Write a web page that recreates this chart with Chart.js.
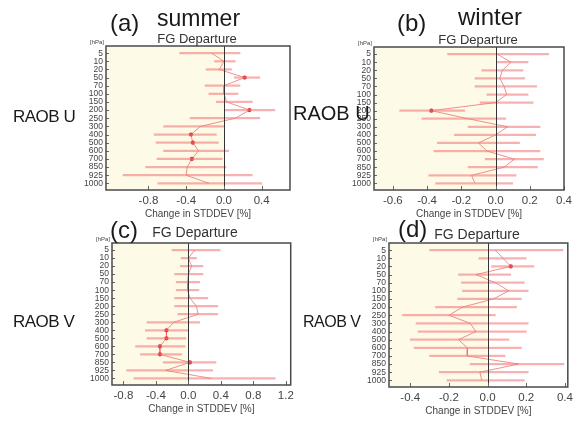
<!DOCTYPE html>
<html>
<head>
<meta charset="utf-8">
<script src="https://cdn.jsdelivr.net/npm/chart.js@4.4.1/dist/chart.umd.min.js"></script>
<style>
  body { margin: 0; background: #fff; }
  #wrap { position: relative; width: 582px; height: 421px; overflow: hidden; font-family: 'Liberation Sans', Arial, sans-serif; color: #1a1a1a; }
  canvas { position: absolute; }
  .lbl { position: absolute; line-height: 1; white-space: nowrap; z-index: 2; }
  .big { font-size: 24px; }
  .fg { font-size: 13px; color: #333; transform: translateX(-50%); }
</style>
</head>
<body>
<div id="wrap">
  <canvas id="cA"></canvas>
  <canvas id="cB"></canvas>
  <canvas id="cC"></canvas>
  <canvas id="cD"></canvas>

  <div class="lbl big" style="left:110px; top:11px;">(a)</div>
  <div class="lbl" style="left:157px; top:7px; font-size:23px;">summer</div>
  <div class="lbl big" style="left:397px; top:11px;">(b)</div>
  <div class="lbl" style="left:458px; top:5px; font-size:24px;">winter</div>
  <div class="lbl big" style="left:110px; top:218px;">(c)</div>
  <div class="lbl big" style="left:398px; top:217px;">(d)</div>

  <div class="lbl fg" style="left:197px; top:32px;">FG Departure</div>
  <div class="lbl fg" style="left:478px; top:33px;">FG Departure</div>
  <div class="lbl fg" style="left:195px; top:225px; font-size:14px;">FG Departure</div>
  <div class="lbl fg" style="left:477px; top:227px; font-size:14px;">FG Departure</div>

  <div class="lbl" style="left:13px; top:108px; font-size:17px; letter-spacing:-0.5px;">RAOB U</div>
  <div class="lbl" style="left:293px; top:103px; font-size:20px;">RAOB U</div>
  <div class="lbl" style="left:13px; top:313px; font-size:17px; letter-spacing:-0.5px;">RAOB V</div>
  <div class="lbl" style="left:303px; top:314px; font-size:16px; letter-spacing:-0.5px;">RAOB V</div>
</div>
<script>
// pressure levels (hPa), top to bottom
const levels = ['5', '10', '20', '50', '70', '100', '150', '200', '250', '300', '400', '500', '600', '700', '850', '925', '1000'];

// (a) summer, RAOB U
const meanA = [-0.13, 0.0, -0.05, 0.22, 0.0, 0.0, 0.03, 0.27, 0.12, -0.25, -0.35, -0.33, -0.27, -0.34, -0.39, -0.40, -0.16];
const lowA  = [-0.47, -0.10, -0.19, 0.11, -0.20, -0.16, -0.08, 0.01, -0.36, -0.64, -0.74, -0.72, -0.64, -0.71, -0.83, -1.07, -0.70];
const highA = [0.17, 0.12, 0.08, 0.38, 0.17, 0.15, 0.30, 0.54, 0.38, 0.0, -0.08, -0.06, 0.05, -0.02, 0.02, 0.30, 0.40];
const sigA  = ['50', '200', '400', '500', '700'];
const ticksA = [-0.8, -0.4, 0.0, 0.4];

// (b) winter, RAOB U
const meanB = [0.01, 0.09, 0.04, 0.025, 0.05, 0.065, 0.0, -0.375, -0.16, 0.07, 0.0, -0.10, -0.05, 0.11, 0.05, -0.14, -0.12];
const lowB  = [-0.28, 0.01, -0.08, -0.12, -0.12, -0.05, -0.09, -0.56, -0.43, -0.16, -0.24, -0.34, -0.36, -0.06, -0.16, -0.39, -0.35];
const highB = [0.31, 0.19, 0.16, 0.17, 0.24, 0.19, 0.22, -0.18, 0.06, 0.26, 0.235, 0.14, 0.26, 0.28, 0.245, 0.12, 0.10];
const sigB  = ['200'];
const ticksB = [-0.6, -0.4, -0.2, 0.0, 0.2, 0.4];

// (c) summer, RAOB V
const meanC = [0.08, 0.0, 0.04, 0.0, -0.01, -0.01, 0.02, 0.10, 0.12, -0.18, -0.27, -0.27, -0.35, -0.35, 0.02, -0.28, 0.28];
const lowC  = [-0.20, -0.09, -0.10, -0.17, -0.15, -0.15, -0.17, -0.17, -0.13, -0.51, -0.53, -0.51, -0.65, -0.59, -0.31, -0.76, -0.67];
const highC = [0.39, 0.10, 0.18, 0.18, 0.14, 0.13, 0.24, 0.36, 0.36, 0.14, 0.0, -0.03, -0.04, -0.085, 0.34, 0.30, 1.07];
const sigC  = ['400', '500', '600', '700', '850'];
const ticksC = [-0.8, -0.4, 0.0, 0.4, 0.8, 1.2];

// (d) winter, RAOB V
const meanD = [0.04, 0.08, 0.12, -0.06, 0.04, 0.11, 0.03, -0.13, -0.20, -0.09, -0.06, -0.15, -0.105, -0.105, 0.16, -0.04, -0.03];
const lowD  = [-0.30, -0.045, 0.02, -0.15, -0.135, -0.13, -0.155, -0.27, -0.44, -0.37, -0.36, -0.40, -0.38, -0.30, -0.09, -0.25, -0.21];
const highD = [0.39, 0.20, 0.24, 0.12, 0.19, 0.21, 0.175, 0.15, 0.04, 0.21, 0.20, 0.11, 0.175, 0.09, 0.395, 0.21, 0.19];
const sigD  = ['20'];
const ticksD = [-0.4, -0.2, 0.0, 0.2, 0.4];

const FONT = "'Liberation Sans', Arial, sans-serif";

// cream fill left of zero, zero line, inner tick marks, frame, [hPa]
const panelDecor = {
    id: 'panelDecor',
    beforeDatasetsDraw(chart) {
        const {ctx, chartArea: a, scales: {x}} = chart;
        const x0 = x.getPixelForValue(0);
        ctx.save();
        ctx.fillStyle = '#fdfbe7';
        ctx.fillRect(a.left, a.top, x0 - a.left, a.bottom - a.top);
        ctx.restore();
    },
    afterDatasetsDraw(chart) {
        const {ctx, chartArea: a, scales: {x, y}} = chart;
        ctx.save();
        const x0 = Math.round(x.getPixelForValue(0)) + 0.5;
        ctx.strokeStyle = '#333';
        ctx.lineWidth = 1;
        ctx.beginPath();
        ctx.moveTo(x0, a.top); ctx.lineTo(x0, a.bottom);
        ctx.stroke();

        ctx.strokeStyle = '#666';
        ctx.beginPath();
        x.ticks.forEach(t => {
            const px = Math.round(x.getPixelForValue(t.value)) + 0.5;
            ctx.moveTo(px, a.bottom); ctx.lineTo(px, a.bottom - 4);
        });
        y.ticks.forEach(t => {
            const py = Math.round(y.getPixelForValue(t.value)) + 0.5;
            ctx.moveTo(a.left, py); ctx.lineTo(a.left + 3, py);
        });
        ctx.stroke();

        ctx.strokeStyle = '#4a4a4a';
        ctx.lineWidth = 1.5;
        ctx.strokeRect(a.left, a.top, a.right - a.left, a.bottom - a.top);

        ctx.fillStyle = '#444';
        ctx.font = '6px ' + FONT;
        ctx.textAlign = 'right';
        ctx.textBaseline = 'bottom';
        ctx.fillText('[hPa]', a.left - 2, a.top - 1);
        ctx.restore();
    }
};

function makePanel(id, box, xMin, xMax, xTicks, mean, low, high, sig) {
    const yW = 40, xH = 32, padT = 12, padR = 6;
    const cv = document.getElementById(id);
    cv.width = box.R - box.L + yW + padR;
    cv.height = box.B - box.T + padT + xH;
    cv.style.left = (box.L - yW) + 'px';
    cv.style.top = (box.T - padT) + 'px';

    const idx = levels.map((_, i) => i);
    new Chart(cv, {
        type: 'bar',
        data: {
            datasets: [{
                type: 'bar',
                indexAxis: 'y',
                data: idx.map(i => ({x: [low[i], high[i]], y: i})),
                backgroundColor: 'rgba(242, 125, 125, 0.6)',
                borderWidth: 0,
                barThickness: 1.6
            }, {
                type: 'line',
                indexAxis: 'y',
                data: idx.map(i => ({x: mean[i], y: i})),
                borderColor: 'rgba(236, 105, 105, 0.75)',
                borderWidth: 1,
                tension: 0,
                pointRadius: idx.map(i => sig.includes(levels[i]) ? 2.1 : 0),
                pointBackgroundColor: '#e22222',
                pointBorderWidth: 0
            }]
        },
        options: {
            responsive: false,
            animation: false,
            indexAxis: 'y',
            layout: {padding: {top: padT, right: padR, left: 0, bottom: 0}},
            plugins: {legend: {display: false}, tooltip: {enabled: false}},
            scales: {
                x: {
                    type: 'linear',
                    position: 'bottom',
                    min: xMin,
                    max: xMax,
                    afterBuildTicks: s => { s.ticks = xTicks.map(v => ({value: v})); },
                    afterFit: s => { s.height = xH; },
                    grid: {display: false, drawTicks: false},
                    border: {display: false},
                    ticks: {
                        padding: 4,
                        color: '#444',
                        font: {family: FONT, size: 11.5},
                        maxRotation: 0,
                        autoSkip: false,
                        callback: v => v.toFixed(1)
                    },
                    title: {
                        display: true,
                        text: 'Change in STDDEV [%]',
                        color: '#444',
                        font: {family: FONT, size: 10},
                        padding: {top: 0, bottom: 1.5}
                    }
                },
                y: {
                    type: 'linear',
                    reverse: true,
                    offset: false,
                    min: -0.88,
                    max: 16.82,
                    afterBuildTicks: s => { s.ticks = idx.map(v => ({value: v})); },
                    afterFit: s => { s.width = yW; },
                    grid: {display: false, drawTicks: false},
                    border: {display: false},
                    ticks: {
                        padding: 3,
                        color: '#444',
                        font: {family: FONT, size: 8.5},
                        autoSkip: false,
                        callback: v => levels[v] || ''
                    }
                }
            }
        },
        plugins: [panelDecor]
    });
}

makePanel('cA', {L: 106, R: 290, T: 46, B: 190}, -1.25, 0.70, ticksA, meanA, lowA, highA, sigA);
makePanel('cB', {L: 374, R: 570, T: 47, B: 190}, -0.71, 0.40, ticksB, meanB, lowB, highB, sigB);
makePanel('cC', {L: 112, R: 292, T: 243, B: 385}, -0.94, 1.26, ticksC, meanC, lowC, highC, sigC);
makePanel('cD', {L: 389, R: 571, T: 243, B: 387}, -0.51, 0.415, ticksD, meanD, lowD, highD, sigD);
</script>
</body>
</html>
